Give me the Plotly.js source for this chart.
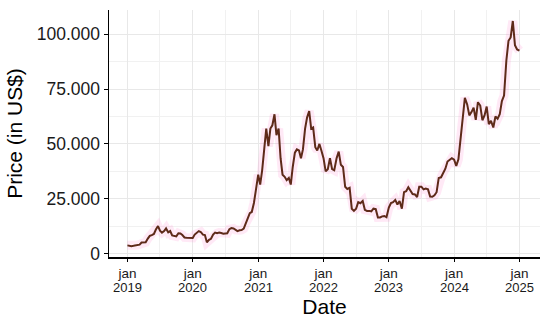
<!DOCTYPE html>
<html>
<head>
<meta charset="utf-8">
<script src="https://cdn.plot.ly/plotly-3.0.1.min.js"></script>
<style>
  html, body { margin: 0; padding: 0; background: #fff; }
  #chart { width: 550px; height: 318px; }
</style>
</head>
<body>
<div id="chart"></div>
<script>
/* Bitcoin price, readings */
const years = [2019, 2020, 2021, 2022, 2023, 2024];
// readings per year, evenly spread over the year
const price = {
  2019: [3800, 3600, 3450, 3600, 3850, 3950, 4100, 5100, 5300, 5200, 6900, 8100,
         8500, 9000, 11000, 12600, 10500, 9600, 10300, 11500, 9700, 10300, 8300, 8200,
         7900, 9300, 9200, 8500, 7400, 7300, 7200, 7100],
  2020: [7200, 8700, 9400, 10300, 9900, 8700, 8500, 5200, 6300, 6800, 8700, 9600,
         9300, 9600, 9400, 9100, 9200, 9300, 11200, 11700, 11500, 10900, 10300, 10700,
         10800, 11400, 13800, 15500, 18500, 19000, 23100, 29000],
  2021: [36000, 31500, 38000, 48000, 57000, 49000, 57000, 58500, 63500, 54000, 57000, 43500,
         36000, 35000, 33500, 34500, 31500, 39500, 46000, 47500, 47000, 43500, 47500, 57000,
         62000, 65000, 57000, 57500, 48500, 47000, 50000, 47000],
  2022: [43500, 37500, 38500, 43500, 38500, 38000, 43500, 46500, 40500, 39500, 30500, 29500,
         30000, 20500, 19500, 20500, 23500, 23000, 24000, 20000, 19500, 19500, 19300, 20500,
         20300, 16500, 16500, 17000, 17200, 16600],
  2023: [21000, 23100, 23500, 24500, 22400, 24000, 20500, 28000, 28500, 30300, 28500, 27200,
         27000, 25800, 30500, 30500, 29300, 29700, 29300, 26000, 25900, 26600, 28000, 34500,
         34800, 37000, 38700, 42000, 42800, 43500],
  2024: [42800, 40000, 43000, 52000, 62000, 71000, 68000, 63000, 64500, 66500, 61000, 69000,
         67500, 60800, 63000, 67000, 59000, 60500, 57500, 62500, 61500, 63500, 69500, 72000,
         88000, 97000, 98500, 106000, 95000, 93000]
};
function datesFor(y, n) {
  const out = [];
  for (let i = 0; i < n; i++) {
    const dt = new Date(Date.UTC(y, 0, 1) + i * (365 / n) * 86400000);
    out.push(dt.toISOString().slice(0, 10));
  }
  return out;
}
const date = [], close = [];
years.forEach(y => {
  const v = price[y];
  const d = datesFor(y, v.length);
  v.forEach((p, i) => { date.push(d[i]); close.push(p); });
});
date.push("2024-12-31"); close.push(92500);

const yTicks = [0, 25000, 50000, 75000, 100000];
const yLabels = ["0", "25.000", "50.000", "75.000", "100.000"];
const xTicks = ["2019-01-01","2020-01-01","2021-01-01","2022-01-01","2023-01-01","2024-01-01","2025-01-01"];
const xMonth = "jan";
const xYears = ["2019","2020","2021","2022","2023","2024","2025"];
const xMinor = ["2019-07-02","2020-07-02","2021-07-02","2022-07-02","2023-07-02","2024-07-02"];
const yMinor = [12500, 37500, 62500, 87500];

const traces = [
  { type: "scatter", mode: "lines", x: date, y: close, hoverinfo: "skip",
    line: { color: "rgba(255,120,200,0.16)", width: 9 } },
  { type: "scatter", mode: "lines", x: date, y: close,
    line: { color: "#5e2a19", width: 2 } }
];

// year line of the two-line date labels
const yearNotes = xTicks.map((t, i) => ({
  x: t, xref: "x", y: 0, yref: "paper", yanchor: "top", yshift: -21,
  text: xYears[i], showarrow: false, font: { size: 13, color: "#1a1a1a" }
}));

const layout = {
  width: 550, height: 318,
  margin: { l: 109, r: 10, t: 10, b: 61 },
  paper_bgcolor: "#fff", plot_bgcolor: "#fff",
  showlegend: false,
  font: { family: "Liberation Sans, Arial, sans-serif", color: "#1a1a1a" },
  annotations: yearNotes,
  xaxis: {
    type: "date", range: ["2018-09-20", "2025-04-25"],
    tickmode: "array", tickvals: xTicks, ticktext: xTicks.map(() => xMonth),
    tickfont: { size: 13.5, color: "#1a1a1a" },
    ticks: "outside", ticklen: 3, tickcolor: "#000", tickwidth: 1,
    showline: true, linecolor: "#000", linewidth: 1.5,
    showgrid: true, gridcolor: "#e8e8e8", gridwidth: 1, zeroline: false,
    minor: { tickmode: "array", tickvals: xMinor, showgrid: true, gridcolor: "#f1f1f1", gridwidth: 1, ticklen: 0 },
    title: { text: "Date", font: { size: 21, color: "#000" }, standoff: 23 }
  },
  yaxis: {
    range: [-1500, 111000],
    tickmode: "array", tickvals: yTicks, ticktext: yLabels,
    tickfont: { size: 17.5, color: "#1a1a1a" },
    ticks: "outside", ticklen: 4, tickcolor: "#000", tickwidth: 1,
    showline: true, linecolor: "#000", linewidth: 1.5,
    showgrid: true, gridcolor: "#e8e8e8", gridwidth: 1, zeroline: false,
    minor: { tickmode: "array", tickvals: yMinor, showgrid: true, gridcolor: "#f1f1f1", gridwidth: 1, ticklen: 0 },
    title: { text: "Price (in US$)", font: { size: 21, color: "#000" }, standoff: 8 }
  }
};

Plotly.newPlot("chart", traces, layout, { displayModeBar: false, staticPlot: true });
</script>
</body>
</html>
